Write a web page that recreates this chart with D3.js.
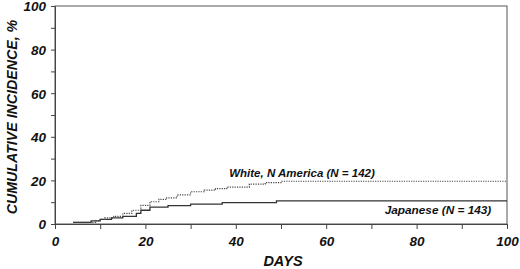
<!DOCTYPE html>
<html><head><meta charset="utf-8">
<script src="https://cdn.jsdelivr.net/npm/d3@7"></script>
<style>
body{margin:0;background:#fff;}
text{font-family:"Liberation Sans",Arial,sans-serif;font-weight:bold;font-style:italic;fill:#111;}
</style></head><body>
<svg id="c" width="520" height="269"></svg>
<script>
// Step data: [day, cumulative incidence %]
const japaneseDays = [0, 4, 8, 10, 12.5, 15, 18, 19, 21, 25, 30, 37, 49, 100];
const japaneseVals = [0, 0.7, 1.4, 2.1, 2.8, 3.5, 4.9, 6.3, 7.7, 8.4, 9.1, 9.8, 10.6, 10.6];
const whiteDays = [0, 4, 9, 10, 11, 13, 15, 17, 19, 21, 23, 24.5, 27, 30, 33, 35.5, 38, 43, 46.5, 50, 100];
const whiteVals = [0, 0.7, 1.4, 2.1, 2.8, 3.5, 4.9, 6.3, 8.5, 10.2, 11.3, 12.0, 13.4, 14.8, 15.5, 16.2, 16.9, 18.3, 19.0, 19.6, 19.6];
const xTicks = [0, 20, 40, 60, 80, 100];
const yTicks = [0, 20, 40, 60, 80, 100];
const seriesLabels = ["White, N America (N = 142)", "Japanese (N = 143)"];

const svg = d3.select("#c");
const x = d3.scaleLinear().domain([0, 100]).range([55, 507]);
const y = d3.scaleLinear().domain([0, 100]).range([224, 6]);

// frame
svg.append("rect").attr("x", x(0)).attr("y", y(100)).attr("width", x(100) - x(0)).attr("height", y(0) - y(100))
  .attr("fill", "none").attr("stroke", "#555").attr("stroke-width", 1);

// y axis
const yAx = svg.append("g").attr("transform", `translate(${x(0)},0)`)
  .call(d3.axisLeft(y).tickValues(d3.range(0, 101, 10)).tickSize(4).tickSizeOuter(0)
    .tickFormat(d => yTicks.includes(d) ? d : ""));
yAx.select(".domain").attr("stroke", "#444");
yAx.selectAll(".tick line").attr("stroke", "#444");
yAx.selectAll("text").attr("font-size", 13.5).attr("dx", -2).attr("dy", "0.36em").attr("fill", "#111");

// x axis
const xAx = svg.append("g").attr("transform", `translate(0,${y(0)})`)
  .call(d3.axisBottom(x).tickValues(d3.range(0, 101, 10)).tickSize(5).tickSizeOuter(0)
    .tickFormat(d => xTicks.includes(d) ? d : ""));
xAx.select(".domain").attr("stroke", "#444");
xAx.selectAll(".tick line").attr("stroke", "#444");
xAx.selectAll("text").attr("font-size", 13.5).attr("dy", "1.0em").attr("fill", "#111");

// axis titles
svg.append("text").attr("transform", `translate(17,${(y(0)+y(100))/2 + 2}) rotate(-90)`)
  .attr("text-anchor", "middle").attr("font-size", 14.2).text("CUMULATIVE INCIDENCE, %");
svg.append("text").attr("x", 283).attr("y", 266)
  .attr("text-anchor", "middle").attr("font-size", 14.5).text("DAYS");

const line = d3.line().x(d => x(d[0])).y(d => y(d[1])).curve(d3.curveStepAfter);
const wData = whiteDays.map((d, i) => [d, whiteVals[i]]);
const jData = japaneseDays.map((d, i) => [d, japaneseVals[i]]);

svg.append("path").datum(jData.slice(1)).attr("d", line).attr("fill", "none")
  .attr("stroke", "#333").attr("stroke-width", 1.3);
svg.append("path").datum(wData.slice(1)).attr("d", line).attr("fill", "none")
  .attr("stroke", "#444").attr("stroke-width", 1.2).attr("stroke-dasharray", "1.2,1.2");

// series labels
svg.append("text").attr("x", 302).attr("y", y(21.5)).attr("text-anchor", "middle")
  .attr("font-size", 11.5).text(seriesLabels[0]);
svg.append("text").attr("x", 438).attr("y", y(4.6)).attr("text-anchor", "middle")
  .attr("font-size", 11.8).text(seriesLabels[1]);
</script></body></html>
